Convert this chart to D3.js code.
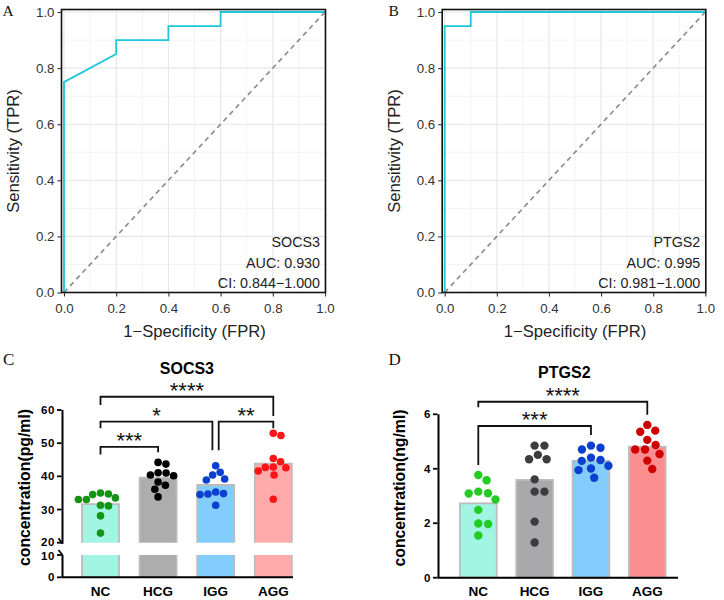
<!DOCTYPE html>
<html><head><meta charset="utf-8">
<script src="https://cdn.jsdelivr.net/npm/d3@7"></script>
<style>body{margin:0;background:#fff} svg{display:block}</style>
</head><body><svg id="c" width="724" height="600"></svg>
<script>
// ---------- ROC data ----------
const rocTicks = [0, 0.2, 0.4, 0.6, 0.8, 1.0];
const rocMinor = [0.1, 0.3, 0.5, 0.7, 0.9];
const rocA_fpr = [0, 0, 0.2, 0.2, 0.4, 0.4, 0.6, 0.6, 1];
const rocA_tpr = [0, 0.75, 0.85, 0.9, 0.9, 0.95, 0.95, 1, 1];
const rocB_fpr = [0, 0, 0.1, 0.1, 1];
const rocB_tpr = [0, 0.95, 0.95, 1, 1];
const rocA_text = ["SOCS3", "AUC: 0.930", "CI: 0.844\u22121.000"];
const rocB_text = ["PTGS2", "AUC: 0.995", "CI: 0.981\u22121.000"];

// ---------- Bar/scatter data ----------
const groups = ["NC", "HCG", "IGG", "AGG"];
const socs3Means = [31.6, 39.6, 37.4, 43.8];
const socs3NC  = [33.0, 34.5, 33.0, 34.7, 35.0, 33.5, 31.1, 31.3, 28.1, 22.9];
const socs3HCG = [40.4, 43.7, 44.2, 40.2, 41.0, 41.1, 37.3, 38.3, 36.1, 33.8];
const socs3IGG = [40.4, 41.2, 43.2, 38.9, 39.2, 35.3, 34.7, 34.8, 34.5, 31.3];
const socs3AGG = [53.0, 52.3, 45.4, 44.4, 42.6, 42.7, 41.6, 42.8, 40.4, 33.1];
const socs3TicksUpper = [20, 30, 40, 50, 60];
const socs3TicksLower = [0, 10];
const socs3Sig = [
  {a: "NC", b: "AGG", label: "****", y: 64.0, la: 61.5, lb: 58.2},
  {a: "NC", b: "IGG", label: "*", y: 56.5, la: 54.5, lb: 47.9},
  {a: "IGG", b: "AGG", label: "**", y: 56.5, la: 47.9, lb: 54.5},
  {a: "NC", b: "HCG", label: "***", y: 48.9, la: 46.6, lb: 47.3}
];

const ptgs2Means = [2.73, 3.59, 4.29, 4.81];
const ptgs2NC  = [3.77, 3.58, 3.10, 3.16, 3.09, 2.87, 2.49, 1.99, 1.97, 1.55];
const ptgs2HCG = [4.85, 4.85, 4.51, 4.35, 4.35, 3.61, 3.16, 3.16, 2.06, 1.29];
const ptgs2IGG = [4.85, 4.71, 4.77, 4.41, 4.32, 4.29, 4.11, 3.95, 4.01, 3.67];
const ptgs2AGG = [5.61, 5.40, 5.36, 5.06, 4.87, 4.71, 4.71, 4.54, 4.30, 3.99];
const ptgs2Ticks = [0, 2, 4, 6];
const ptgs2Sig = [
  {a: "NC", b: "AGG", label: "****", y: 6.46, la: 6.26, lb: 5.98},
  {a: "NC", b: "IGG", label: "***", y: 5.57, la: 4.14, lb: 5.24}
];

// ---------- styles ----------
const SANS = "'Liberation Sans', Arial, sans-serif";
const SERIF = "'Liberation Serif', 'Times New Roman', serif";
const svg = d3.select("#c");

// ================= ROC panels =================
function rocPanel(opt) {
  const x = d3.scaleLinear().domain([0, 1]).range(opt.xr);
  const y = d3.scaleLinear().domain([0, 1]).range(opt.yr);
  const L = x(0) - 2.5, R = x(1) + 0.5, T = y(1) - 2.5, B = y(0);
  const g = svg.append("g");
  g.append("rect").attr("x", L).attr("y", T).attr("width", R - L).attr("height", B - T).attr("fill", "#fff");
  rocMinor.forEach(v => {
    g.append("line").attr("x1", x(v)).attr("x2", x(v)).attr("y1", T).attr("y2", B).attr("stroke", "#f0f0f0").attr("stroke-width", 0.8);
    g.append("line").attr("y1", y(v)).attr("y2", y(v)).attr("x1", L).attr("x2", R).attr("stroke", "#f0f0f0").attr("stroke-width", 0.8);
  });
  rocTicks.forEach(v => {
    g.append("line").attr("x1", x(v)).attr("x2", x(v)).attr("y1", T).attr("y2", B).attr("stroke", "#e6e6e6").attr("stroke-width", 1.1);
    g.append("line").attr("y1", y(v)).attr("y2", y(v)).attr("x1", L).attr("x2", R).attr("stroke", "#e6e6e6").attr("stroke-width", 1.1);
  });
  g.append("line").attr("x1", x(0)).attr("y1", y(0)).attr("x2", x(1)).attr("y2", y(1))
    .attr("stroke", "#8a8a8a").attr("stroke-width", 1.6).attr("stroke-dasharray", "5,4");
  const pts = opt.fpr.map((f, i) => [f, opt.tpr[i]]);
  g.append("path").datum(pts)
    .attr("d", d3.line().x(d => x(d[0])).y(d => y(d[1])))
    .attr("fill", "none").attr("stroke", "#1ec6dc").attr("stroke-width", 1.8);
  g.append("rect").attr("x", L).attr("y", T).attr("width", R - L).attr("height", B - T)
    .attr("fill", "none").attr("stroke", "#111").attr("stroke-width", 1.6);
  const xa = g.append("g").attr("transform", `translate(0,${B})`)
    .call(d3.axisBottom(x).tickValues(rocTicks).tickFormat(d3.format(".1f")).tickSize(4).tickPadding(3));
  const ya = g.append("g").attr("transform", `translate(${L},0)`)
    .call(d3.axisLeft(y).tickValues(rocTicks).tickFormat(d3.format(".1f")).tickSize(4).tickPadding(3));
  [xa, ya].forEach(a => {
    a.select(".domain").remove();
    a.selectAll(".tick line").attr("stroke", "#333").attr("stroke-width", 1.1);
    a.selectAll(".tick text").attr("fill", "#333").style("font-family", SANS).style("font-size", "13.3px");
  });
  xa.selectAll(".tick text").attr("dy", "1.05em");
  g.append("text").attr("x", (x(0) + x(1)) / 2).attr("y", 336.5).attr("text-anchor", "middle")
    .style("font-family", SANS).style("font-size", "16.6px").attr("fill", "#222").text("1\u2212Specificity (FPR)");
  g.append("text").attr("transform", `translate(${opt.ytx},${(T + B) / 2}) rotate(-90)`).attr("text-anchor", "middle")
    .style("font-family", SANS).style("font-size", "16.6px").attr("fill", "#222").text("Sensitivity (TPR)");
  opt.text.forEach((t, i) => {
    g.append("text").attr("x", R - 5.5).attr("y", 247 + i * 20.5).attr("text-anchor", "end")
      .style("font-family", SANS).style("font-size", "14.3px").attr("fill", "#222").text(t);
  });
  g.append("text").attr("x", opt.lx).attr("y", 15.5).style("font-family", SERIF).style("font-size", "15.5px").attr("fill", "#111").text(opt.label);
}
rocPanel({xr: [64, 325], yr: [292.5, 12], fpr: rocA_fpr, tpr: rocA_tpr, text: rocA_text, ytx: 18.5, lx: 2.5, label: "A"});
rocPanel({xr: [444.7, 705.3], yr: [292.5, 12], fpr: rocB_fpr, tpr: rocB_tpr, text: rocB_text, ytx: 399.5, lx: 388.5, label: "B"});

// ================= bar + scatter panels =================
// simple beeswarm: spread dots sideways so that they do not overlap
function swarm(ys, D) {
  const idx = ys.map((v, i) => i).sort((a, b) => ys[a] - ys[b]);
  const placed = [], xs = new Array(ys.length);
  for (const i of idx) {
    const yy = ys[i];
    const cands = [0];
    for (const p of placed) {
      const dy = Math.abs(p.y - yy);
      if (dy < D) { const dx = Math.sqrt(D * D - dy * dy); cands.push(p.x + dx, p.x - dx); }
    }
    cands.sort((a, b) => Math.abs(a) - Math.abs(b) || b - a);
    let best = 0;
    for (const c of cands) {
      if (placed.every(p => (p.x - c) ** 2 + (p.y - yy) ** 2 >= D * D - 0.01)) { best = c; break; }
    }
    xs[i] = best; placed.push({x: best, y: yy});
  }
  return xs;
}

function starText(g, cx, lineY, label) {
  const fs = 22;
  g.append("text").attr("x", cx).attr("y", lineY - 11.5 + 0.58 * fs).attr("text-anchor", "middle")
    .style("font-family", SANS).style("font-size", fs + "px").attr("fill", "#111").text(label);
}

function drawSig(g, sig, xc, yv) {
  sig.forEach(s => {
    let xa = xc(s.a), xb = xc(s.b);
    if (sig.some(o => o !== s && o.b === s.a)) xa += 3;
    if (sig.some(o => o !== s && o.a === s.b)) xb -= 3.3;
    const yl = yv(s.y);
    g.append("path").attr("d", `M${xa},${yv(s.la)}V${yl}H${xb}V${yv(s.lb)}`)
      .attr("fill", "none").attr("stroke", "#111").attr("stroke-width", 1.8);
    starText(g, (xa + xb) / 2, yl, s.label);
  });
}

function tickLabels(g, ax, vals, yf, nudge) {
  vals.forEach(v => {
    g.append("line").attr("x1", ax - 4.5).attr("x2", ax).attr("y1", yf(v)).attr("y2", yf(v)).attr("stroke", "#000").attr("stroke-width", 1.8);
    g.append("text").attr("x", ax - 6.5).attr("y", yf(v) + ((nudge && nudge[v]) || 0)).attr("dy", "0.36em").attr("text-anchor", "end")
      .style("font-family", SANS).style("font-size", "11.5px").style("font-weight", "bold").style("letter-spacing", "0.6px").text(v);
  });
}

// ---- Panel C (SOCS3, broken axis) ----
(function () {
  const g = svg.append("g");
  const xc = d3.scalePoint().domain(groups).range([100.5, 273.3]);
  const yU = d3.scaleLinear().domain([20, 60]).range([542.7, 410]);
  const yL = d3.scaleLinear().domain([0, 10]).range([577.3, 555]);
  const bw = 37;
  const barFill = ["#a2f5e2", "#adadad", "#82cdfb", "#ffabab"];
  const dotFill = ["#149414", "#000000", "#0a3fd0", "#ff1515"];
  const dots = [socs3NC, socs3HCG, socs3IGG, socs3AGG];
  const AX = 62.5;
  groups.forEach((gr, i) => {
    const cx = xc(gr), l = cx - bw / 2, r = cx + bw / 2;
    g.append("rect").attr("x", l).attr("y", yU(socs3Means[i])).attr("width", bw).attr("height", yU(20) - yU(socs3Means[i])).attr("fill", barFill[i]);
    g.append("path").attr("d", `M${l},${yU(20)}V${yU(socs3Means[i])}H${r}V${yU(20)}`).attr("fill", "none").attr("stroke", "#bcbcbc").attr("stroke-width", 1.8);
    g.append("rect").attr("x", l).attr("y", yL(10)).attr("width", bw).attr("height", yL(0) - yL(10)).attr("fill", barFill[i]);
    g.append("path").attr("d", `M${l},${yL(0)}V${yL(10)}M${r},${yL(10)}V${yL(0)}`).attr("fill", "none").attr("stroke", "#bcbcbc").attr("stroke-width", 1.8);
  });
  groups.forEach((gr, i) => {
    const ys = dots[i].map(v => yU(v));
    const xs = swarm(ys, 8.0);
    g.selectAll(null).data(dots[i]).enter().append("circle")
      .attr("cx", (d, j) => xc(gr) + xs[j]).attr("cy", d => yU(d)).attr("r", 3.8).attr("fill", dotFill[i]);
  });
  g.append("line").attr("x1", AX).attr("x2", AX).attr("y1", yU(60)).attr("y2", yU(20) + 1).attr("stroke", "#000").attr("stroke-width", 2);
  g.append("line").attr("x1", AX).attr("x2", AX).attr("y1", yL(10)).attr("y2", yL(0)).attr("stroke", "#000").attr("stroke-width", 2);
  g.append("line").attr("x1", AX - 4).attr("x2", AX).attr("y1", yU(20) - 4.5).attr("y2", yU(20) + 1).attr("stroke", "#000").attr("stroke-width", 1.8);
  g.append("line").attr("x1", AX - 4).attr("x2", AX).attr("y1", yL(10) - 5).attr("y2", yL(10)).attr("stroke", "#000").attr("stroke-width", 1.8);
  g.append("line").attr("x1", AX - 1).attr("x2", 293).attr("y1", yL(0)).attr("y2", yL(0)).attr("stroke", "#000").attr("stroke-width", 2);
  tickLabels(g, AX - 1, socs3TicksUpper, yU, {20: -0.8});
  tickLabels(g, AX - 1, socs3TicksLower, yL, {10: 0.8});
  groups.forEach(gr => g.append("text").attr("x", xc(gr)).attr("y", 596).attr("text-anchor", "middle")
    .style("font-family", SANS).style("font-size", "13.5px").style("font-weight", "bold").text(gr));
  drawSig(g, socs3Sig, xc, yU);
  g.append("text").attr("x", (xc("NC") + xc("AGG")) / 2).attr("y", 373.5).attr("text-anchor", "middle")
    .style("font-family", SANS).style("font-size", "16px").style("font-weight", "bold").text("SOCS3");
  g.append("text").attr("transform", `translate(29.5,487.5) rotate(-90)`).attr("text-anchor", "middle")
    .style("font-family", SANS).style("font-size", "15.8px").style("font-weight", "bold").text("concentration(pg/ml)");
  g.append("text").attr("x", 3).attr("y", 365).style("font-family", SERIF).style("font-size", "17px").attr("fill", "#111").text("C");
})();

// ---- Panel D (PTGS2) ----
(function () {
  const g = svg.append("g");
  const xc = d3.scalePoint().domain(groups).range([478.3, 647.3]);
  const yv = d3.scaleLinear().domain([0, 6]).range([577.7, 414.3]);
  const bw = 36.7;
  const barFill = ["#a2f5e2", "#a9a9ac", "#82cdfb", "#fb8f8f"];
  const dotFill = ["#22cc22", "#3d3d3d", "#0a3fd0", "#d10000"];
  const dots = [ptgs2NC, ptgs2HCG, ptgs2IGG, ptgs2AGG];
  const AX = 438.5;
  groups.forEach((gr, i) => {
    const cx = xc(gr);
    g.append("rect").attr("x", cx - bw / 2).attr("y", yv(ptgs2Means[i])).attr("width", bw).attr("height", yv(0) - yv(ptgs2Means[i]))
      .attr("fill", barFill[i]).attr("stroke", "#bcbcbc").attr("stroke-width", 1.8);
  });
  groups.forEach((gr, i) => {
    const ys = dots[i].map(v => yv(v));
    const xs = swarm(ys, 9.8);
    g.selectAll(null).data(dots[i]).enter().append("circle")
      .attr("cx", (d, j) => xc(gr) + xs[j]).attr("cy", d => yv(d)).attr("r", 4.2).attr("fill", dotFill[i]);
  });
  g.append("line").attr("x1", AX).attr("x2", AX).attr("y1", yv(6)).attr("y2", yv(0)).attr("stroke", "#000").attr("stroke-width", 2);
  g.append("line").attr("x1", AX - 1).attr("x2", 678).attr("y1", yv(0)).attr("y2", yv(0)).attr("stroke", "#000").attr("stroke-width", 2);
  tickLabels(g, AX - 1, ptgs2Ticks, yv);
  groups.forEach(gr => g.append("text").attr("x", xc(gr)).attr("y", 595.5).attr("text-anchor", "middle")
    .style("font-family", SANS).style("font-size", "13.5px").style("font-weight", "bold").text(gr));
  drawSig(g, ptgs2Sig, xc, yv);
  g.append("text").attr("x", (xc("NC") + xc("AGG")) / 2 + 1.5).attr("y", 378.3).attr("text-anchor", "middle")
    .style("font-family", SANS).style("font-size", "16px").style("font-weight", "bold").text("PTGS2");
  g.append("text").attr("transform", `translate(405.3,488) rotate(-90)`).attr("text-anchor", "middle")
    .style("font-family", SANS).style("font-size", "15.8px").style("font-weight", "bold").text("concentration(ng/ml)");
  g.append("text").attr("x", 388.5).attr("y", 365).style("font-family", SERIF).style("font-size", "17px").attr("fill", "#111").text("D");
})();
</script></body></html>
